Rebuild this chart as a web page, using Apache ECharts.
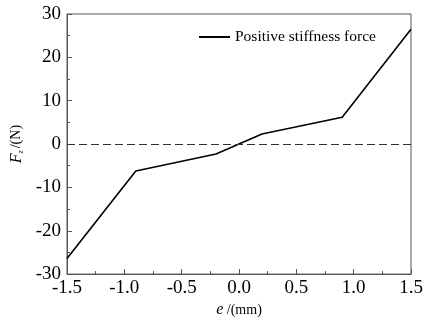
<!DOCTYPE html>
<html>
<head>
<meta charset="utf-8">
<script src="https://cdn.jsdelivr.net/npm/echarts@6/dist/echarts.min.js"></script>
<style>html,body{margin:0;padding:0;background:#fff;}#c{width:438px;height:323px;}</style>
</head>
<body>
<div id="c"></div>
<script>
const eValues = [-1.5, -0.9, -0.2, 0.2, 0.9, 1.5];
const forceValues = [-26.4, -6.2, -2.3, 2.3, 6.2, 26.5];
const seriesName = 'Positive stiffness force';
const xTicks = [-1.5, -1.0, -0.5, 0.0, 0.5, 1.0, 1.5];
const yTicks = [-30, -20, -10, 0, 10, 20, 30];

const FONT = '"Liberation Serif", "Times New Roman", serif';
const chart = echarts.init(document.getElementById('c'), null, {renderer: 'canvas'});
const axisCol = '#555';
chart.setOption({
  animation: false,
  backgroundColor: '#fff',
  grid: {left: 67, right: 27, top: 14, bottom: 46, show: true, borderColor: axisCol, borderWidth: 1},
  legend: {
    left: 194, top: 24, itemWidth: 31, itemHeight: 2, itemGap: 5,
    textStyle: {fontFamily: FONT, fontSize: 15.5, color: '#000'},
    data: [{name: seriesName, icon: 'rect', itemStyle: {color: '#000'}}]
  },
  xAxis: {
    type: 'value', min: xTicks[0], max: xTicks[xTicks.length - 1], interval: 0.5,
    name: '{i|e}{n| /(mm)}', nameLocation: 'middle', nameGap: 24,
    nameTextStyle: {fontFamily: FONT, fontSize: 14, color: '#000',
      rich: {i: {fontFamily: FONT, fontStyle: 'italic', fontSize: 16, color: '#000'}, n: {fontFamily: FONT, fontSize: 14, color: '#000'}}},
    axisLine: {show: true, onZero: false, lineStyle: {color: axisCol, width: 1}},
    axisTick: {show: true, inside: true, length: 5, lineStyle: {color: axisCol}},
    minorTick: {show: true, splitNumber: 2, length: 3, lineStyle: {color: axisCol}},
    splitLine: {show: false},
    axisLabel: {fontFamily: FONT, fontSize: 19, color: '#000', margin: 4,
      formatter: v => v.toFixed(1)}
  },
  yAxis: {
    type: 'value', min: yTicks[0], max: yTicks[yTicks.length - 1], interval: 10,
    name: '{i|F}{s|z}{n|/(N)}', nameLocation: 'middle', nameGap: 38,
    nameTextStyle: {fontFamily: FONT, fontSize: 14, color: '#000',
      rich: {i: {fontFamily: FONT, fontStyle: 'italic', fontSize: 16, color: '#000'},
             s: {fontFamily: FONT, fontStyle: 'italic', fontSize: 8, color: '#000', verticalAlign: 'bottom', padding: [8, 2, 0, 0]},
             n: {fontFamily: FONT, fontSize: 14, color: '#000'}}},
    axisLine: {show: true, onZero: false, lineStyle: {color: axisCol, width: 1}},
    axisTick: {show: true, inside: true, length: 5, lineStyle: {color: axisCol}},
    minorTick: {show: true, splitNumber: 2, length: 3, lineStyle: {color: axisCol}},
    splitLine: {show: false},
    axisLabel: {fontFamily: FONT, fontSize: 19, color: '#000', margin: 6}
  },
  series: [{
    name: seriesName, type: 'line', symbol: 'none',
    data: eValues.map((e, i) => [e, forceValues[i]]),
    lineStyle: {color: '#000', width: 1.6},
    itemStyle: {color: '#000'},
    markLine: {
      silent: true, symbol: 'none', label: {show: false},
      lineStyle: {color: '#333', width: 1, type: [8, 4]},
      data: [{yAxis: 0}]
    }
  }]
});
</script>
</body>
</html>
